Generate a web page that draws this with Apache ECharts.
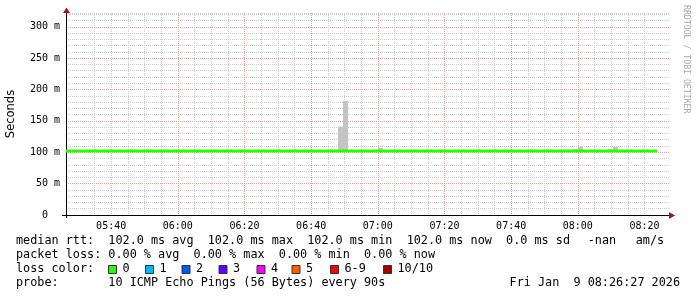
<!DOCTYPE html>
<html><head><meta charset="utf-8">
<script src="https://cdn.jsdelivr.net/npm/echarts@6/dist/echarts.min.js"></script>
<style>html,body{margin:0;padding:0;background:#fff}#c{width:697px;height:297px}</style>
</head><body><div id="c"></div>
<script>
// ---- data ----
const axisStart = '05:26:27';
const axisEnd = '08:27:21';
const yMin = 0;
const yMax = 322;
const xTickLabels = ['05:40','06:00','06:20','06:40','07:00','07:20','07:40','08:00','08:20'];
const xMinorStepMin = 5;
const yTickLabels = ['0','50 m','100 m','150 m','200 m','250 m','300 m'];
const medianTimes = ['05:26:27','08:23:45'];
const medianValues = [102, 102];
// smoke: start of each 90 s step, lowest and highest ping (ms)
const smokeTimes = ['06:48:03','06:49:33','07:00:03','07:58:33','08:00:03','08:09:03','08:10:33'];
const smokeLow  = [101, 101, 101, 101, 101, 101, 101];
const smokeHigh = [141, 182, 107, 105, 109, 105, 109];
const stepSeconds = 90;
const lossLabels = ['0','1','2','3','4','5','6-9','10/10'];
const lossColors = ['#26ff00','#00b8ff','#0059ff','#5e00ff','#ff00ff','#ff5e00','#ff0000','#a10000'];
const legendLines = [
  'median rtt:  102.0 ms avg  102.0 ms max  102.0 ms min  102.0 ms now  0.0 ms sd',
  'packet loss: 0.00 % avg  0.00 % max  0.00 % min  0.00 % now',
  'loss color:',
  'probe:       10 ICMP Echo Pings (56 Bytes) every 90s'
];
const sdNan = '-nan';
const amUnit = 'am/s';
const dateText = 'Fri Jan  9 08:26:27 2026';
const watermark = 'RRDTOOL / TOBI OETIKER';

// ---- helpers ----
function sec(t){ const p = t.split(':').map(Number); return p[0]*3600 + p[1]*60 + (p[2]||0); }
function hhmm(v){ const h = Math.floor(v/3600), m = Math.floor((v%3600)/60); return String(h).padStart(2,'0')+':'+String(m).padStart(2,'0'); }
const xMin = sec(axisStart), xMax = sec(axisEnd);
const majorTicks = xTickLabels.map(sec);
const minorTicks = [];
for (let t = Math.ceil(xMin/(xMinorStepMin*60))*xMinorStepMin*60; t < xMax; t += xMinorStepMin*60) minorTicks.push(t);
const MONO = '"DejaVu Sans Mono", monospace';
const minorColor = '#cdcdcd';
const majorColor = '#eca2a2';

const chart = echarts.init(document.getElementById('c'), null, {renderer:'canvas'});

const lineData = medianTimes.map((t,i)=>[sec(t), medianValues[i]]);
const smokeData = smokeTimes.map((t,i)=>[sec(t), smokeLow[i], smokeHigh[i]]);

const option = {
  animation: false,
  backgroundColor: '#ffffff',
  grid: {left:66, right:28, top:13, bottom:82, containLabel:false, outerBoundsMode:'none'},
  xAxis: [
    {type:'value', min:xMin, max:xMax, position:'bottom',
     axisLine:{show:false}, axisTick:{show:false, customValues:minorTicks}, axisLabel:{show:false, customValues:minorTicks},
     splitLine:{show:true, showMinLine:false, showMaxLine:false, lineStyle:{color:minorColor, width:1, type:[1,1]}}},
    {type:'value', min:xMin, max:xMax, position:'bottom',
     axisLine:{show:true, onZero:false, lineStyle:{color:'#000', width:1}},
     axisTick:{show:false, customValues:majorTicks},
     axisLabel:{show:true, margin:6, color:'#000', fontFamily:MONO, fontSize:10, customValues:majorTicks,
       formatter:(v)=>hhmm(v)},
     splitLine:{show:true, showMinLine:false, showMaxLine:false, lineStyle:{color:majorColor, width:1, type:[1,1]}}}
  ],
  yAxis: [
    {type:'value', min:yMin, max:yMax, interval:10, position:'left',
     axisLine:{show:false}, axisTick:{show:false}, axisLabel:{show:false},
     splitLine:{show:true, showMinLine:false, lineStyle:{color:minorColor, width:1, type:[1,1]}}},
    {type:'value', min:yMin, max:yMax, interval:50, position:'left',
     name:'Seconds', nameLocation:'middle', nameGap:49, nameRotate:90,
     nameTextStyle:{color:'#000', fontFamily:'"DejaVu Sans", sans-serif', fontSize:11.5},
     axisLine:{show:true, onZero:false, lineStyle:{color:'#000', width:1}},
     axisTick:{show:false},
     axisLabel:{show:true, margin:6, color:'#000', fontFamily:MONO, fontSize:10, showMaxLabel:false,
       formatter:(v)=>{ if (v%50!==0) return ''; const s = yTickLabels[v/50]; return s.endsWith(' m') ? s : s+'  '; }},
     splitLine:{show:true, showMinLine:false, showMaxLine:false, lineStyle:{color:majorColor, width:1, type:[1,1]}}}
  ],
  series: [
    {type:'custom', xAxisIndex:0, yAxisIndex:0, clip:true, z:2,
     renderItem:(params, api)=>{
       const t = api.value(0);
       const p0 = api.coord([t, api.value(2)]);
       const p1 = api.coord([t + stepSeconds, api.value(1)]);
       return {type:'rect', shape:{x:p0[0], y:p0[1], width:p1[0]-p0[0], height:p1[1]-p0[1]},
               style:{fill:'#c4c4c4'}};
     },
     data: smokeData},
    {type:'line', xAxisIndex:0, yAxisIndex:0, data: lineData, showSymbol:false, symbol:'none',
     lineStyle:{color:'#26ff00', width:3}, z:3, silent:true}
  ]
};
chart.setOption(option);

// ---- decorations (text legend, arrows, watermark) ----
const pO = chart.convertToPixel({gridIndex:0}, [xMin, yMin]);
const pTop = chart.convertToPixel({gridIndex:0}, [xMin, yMax]);
const pRight = chart.convertToPixel({gridIndex:0}, [xMax, yMin]);
const LFONT = '11.8px ' + MONO;
const rowY = [241, 255, 269.3, 283.3];
function txt(x, y, s, extra){ return {type:'text', x:x, y:y, silent:true, z:10,
  style:Object.assign({text:s, fill:'#000', font:LFONT, textAlign:'left', textVerticalAlign:'middle'}, extra||{})}; }
const g = [];
legendLines.forEach((s,i)=>g.push(txt(16, rowY[i], s)));
g.push(txt(587.7, rowY[0], sdNan));
g.push(txt(635.7, rowY[0], amUnit));
g.push(txt(680, rowY[3], dateText, {textAlign:'right'}));
const boxX = [108, 145, 181.5, 218.5, 256.5, 291.5, 330, 383];
lossLabels.forEach((l,i)=>{
  g.push({type:'rect', silent:true, z:10, shape:{x:boxX[i]+0.5, y:265.5, width:8, height:8},
          style:{fill:lossColors[i], stroke:'#333', lineWidth:1}});
  g.push(txt(boxX[i]+14.5, rowY[2], l));
});
g.push({type:'text', x:686, y:5, rotation:-Math.PI/2, silent:true, z:10,
  style:{text:watermark, fill:'#a8a8a8', font:'8.2px ' + MONO, textAlign:'left', textVerticalAlign:'middle'}});
// axis extensions and arrows
g.push({type:'line', silent:true, z:10, shape:{x1:pO[0]-4, y1:pO[1]+0.5, x2:pO[0], y2:pO[1]+0.5}, style:{stroke:'#000', lineWidth:1}});
g.push({type:'line', silent:true, z:10, shape:{x1:pO[0]+0.5, y1:pO[1], x2:pO[0]+0.5, y2:pO[1]+3}, style:{stroke:'#000', lineWidth:1}});
g.push({type:'polygon', silent:true, z:10, shape:{points:[[pTop[0]-3, pTop[1]],[pTop[0]+4, pTop[1]],[pTop[0]+0.5, pTop[1]-5.5]]}, style:{fill:'#a01818'}});
g.push({type:'polygon', silent:true, z:10, shape:{points:[[pRight[0], pO[1]-3],[pRight[0], pO[1]+4],[pRight[0]+6, pO[1]+0.5]]}, style:{fill:'#a01818'}});
chart.setOption({graphic:g});
</script></body></html>
